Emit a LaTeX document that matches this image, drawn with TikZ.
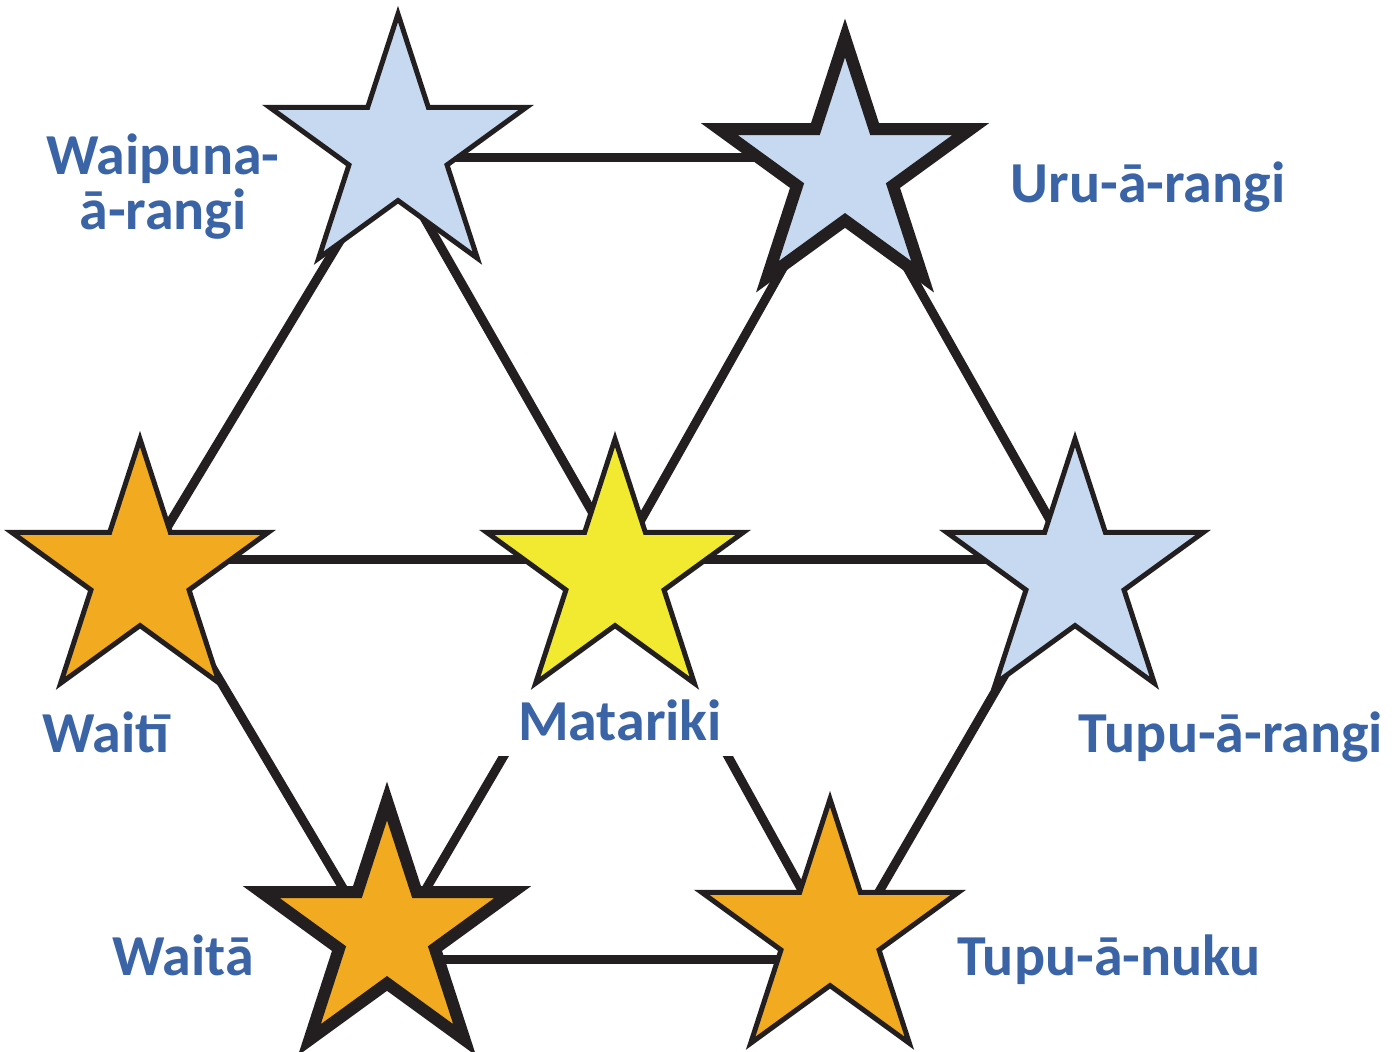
\documentclass[tikz,border=0pt]{standalone}
\usepackage{fontspec}
\setmainfont{Carlito}
\usetikzlibrary{shapes.geometric}
\definecolor{ink}{RGB}{35,31,32}
\definecolor{starblue}{RGB}{198,217,240}
\definecolor{starorange}{RGB}{242,170,32}
\definecolor{staryellow}{RGB}{242,234,48}
\definecolor{labelblue}{RGB}{58,100,165}
\begin{document}
\begin{tikzpicture}[x=0.5pt,y=-0.5pt,
  conn/.style={line width=4.5pt, draw=ink},
  starnode/.style={star, star points=5, star point ratio=2.618, inner sep=0pt,
    minimum size=135pt, draw=ink, line width=2.5pt},
  thickstar/.style={line width=6pt, minimum size=132pt},
  lbl/.style={text=labelblue, font=\fontsize{29}{27.5}\selectfont\bfseries,
    inner sep=0pt, anchor=base}
]
\useasboundingbox (0,0) rectangle (1400,1052);
% lattice points behind the stars
\coordinate (tl) at (390,158);
\coordinate (tr) at (845,158);
\coordinate (ml) at (148,559);
\coordinate (mc) at (619,559);
\coordinate (mr) at (1072,559);
\coordinate (bl) at (385,959);
\coordinate (br) at (840,959);
% connectors
\draw[conn] (tl) -- (tr);
\draw[conn] (ml) -- (mc);
\draw[conn] (mc) -- (mr);
\draw[conn] (bl) -- (br);
\draw[conn] (tl) -- (ml);
\draw[conn] (tl) -- (mc);
\draw[conn] (tr) -- (mc);
\draw[conn] (tr) -- (mr);
\draw[conn] (ml) -- (bl);
\draw[conn] (mc) -- (bl);
\draw[conn] (mc) -- (br);
\draw[conn] (mr) -- (br);
% Matariki label masks the lines below the centre star
\node[lbl, fill=white, inner xsep=16pt, inner ysep=8pt, text height=30pt]
  (lmatariki) at (620,740) {Matariki};
% stars
\node[starnode, fill=starblue] (waipuna) at (398,149) {};
\node[starnode, thickstar, fill=starblue] (uru) at (845,170) {};
\node[starnode, fill=starorange] (waiti) at (140,574) {};
\node[starnode, fill=staryellow] (matariki) at (615,574) {};
\node[starnode, fill=starblue] (tuparangi) at (1075,574) {};
\node[starnode, thickstar, fill=starorange] (waita) at (387,933) {};
\node[starnode, fill=starorange] (tupunuku) at (830,934) {};
% labels
\node[lbl, align=center] (lwaipuna) at (163,230) {Waipuna-\\ā-rangi};
\node[lbl] (luru) at (1148,203) {Uru-ā-rangi};
\node[lbl] (lwaiti) at (106,752) {Waitī};
\node[lbl] (ltuparangi) at (1231,752) {Tupu-ā-rangi};
\node[lbl] (lwaita) at (183,975) {Waitā};
\node[lbl] (ltupunuku) at (1109,975) {Tupu-ā-nuku};
\end{tikzpicture}
\end{document}
